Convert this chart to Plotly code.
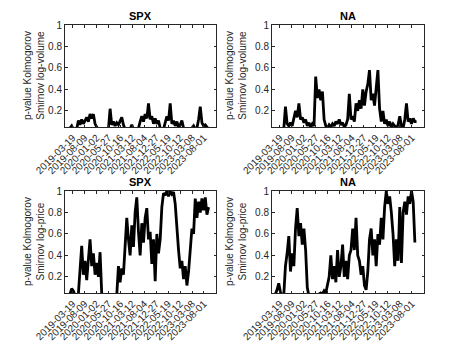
import plotly.graph_objects as go

# trading-day index of each sample, and the dated ticks every 100 days
obs = list(range(0, 1274, 14))
tick_obs = [65, 165, 265, 365, 465, 565, 665, 765, 865, 965, 1065, 1165]
tick_dates = ['2019-03-19', '2019-08-09', '2020-01-02', '2020-05-27',
              '2020-10-16', '2021-03-12', '2021-08-04', '2021-12-27',
              '2022-05-19', '2022-10-12', '2023-03-08', '2023-08-01']
y_ticks = [0.2, 0.4, 0.6, 0.8, 1]
y_ticktext = ['0.2', '0.4', '0.6', '0.8', '1']

# p-values
spx_volume = [0.02, 0.02, 0.03, 0.04, 0.06, 0.03, 0.02, 0.03, 0.11, 0.07,
              0.12, 0.08, 0.11, 0.14, 0.10, 0.17, 0.13, 0.17, 0.08, 0.04,
              0.02, 0.02, 0.02, 0.02, 0.02, 0.02, 0.03, 0.22, 0.07, 0.10,
              0.06, 0.09, 0.07, 0.10, 0.14, 0.07, 0.03, 0.02, 0.02, 0.03,
              0.07, 0.03, 0.02, 0.03, 0.04, 0.10, 0.15, 0.10, 0.17, 0.13,
              0.27, 0.12, 0.15, 0.08, 0.13, 0.08, 0.11, 0.04, 0.02, 0.03,
              0.09, 0.15, 0.11, 0.27, 0.08, 0.11, 0.06, 0.10, 0.05, 0.07,
              0.11, 0.04, 0.02, 0.02, 0.02, 0.02, 0.04, 0.06, 0.03, 0.04,
              0.12, 0.24, 0.09, 0.06, 0.07, 0.05, 0.03]
na_volume = [0.02, 0.02, 0.02, 0.03, 0.02, 0.02, 0.02, 0.03, 0.24, 0.08,
             0.06, 0.09, 0.06, 0.12, 0.20, 0.14, 0.27, 0.12, 0.14, 0.09,
             0.12, 0.06, 0.09, 0.05, 0.08, 0.06, 0.52, 0.32, 0.40, 0.30,
             0.38, 0.12, 0.06, 0.04, 0.07, 0.05, 0.08, 0.06, 0.10, 0.08,
             0.12, 0.07, 0.09, 0.05, 0.07, 0.12, 0.36, 0.12, 0.15, 0.10,
             0.27, 0.20, 0.30, 0.22, 0.40, 0.25, 0.38, 0.45, 0.58, 0.30,
             0.36, 0.25, 0.46, 0.58, 0.22, 0.10, 0.20, 0.08, 0.12, 0.06,
             0.10, 0.05, 0.08, 0.06, 0.04, 0.07, 0.15, 0.06, 0.04, 0.12,
             0.27, 0.10, 0.13, 0.08, 0.13, 0.10, 0.10]
spx_price = [0.02, 0.02, 0.03, 0.04, 0.09, 0.07, 0.03, 0.02, 0.04, 0.30,
             0.49, 0.22, 0.35, 0.17, 0.38, 0.55, 0.30, 0.42, 0.22, 0.33,
             0.20, 0.43, 0.04, 0.01, 0.01, 0.01, 0.01, 0.01, 0.01, 0.01,
             0.01, 0.03, 0.30, 0.15, 0.28, 0.22, 0.45, 0.75, 0.55, 0.40,
             0.68, 0.48, 0.80, 0.94, 0.62, 0.40, 0.70, 0.52, 0.75, 0.84,
             0.55, 0.62, 0.32, 0.55, 0.16, 0.60, 0.42, 0.55, 0.85, 0.98,
             0.96, 1.00, 0.95, 1.00, 0.97, 0.99, 0.88, 0.62, 0.45, 0.28,
             0.35, 0.18, 0.30, 0.12, 0.25, 0.45, 0.65, 0.60, 0.93, 0.75,
             0.90, 0.80, 0.93, 0.82, 0.94, 0.78, 0.85]
na_price = [0.02, 0.03, 0.04, 0.08, 0.14, 0.06, 0.02, 0.03, 0.30, 0.42,
            0.58, 0.25, 0.42, 0.30, 0.65, 0.84, 0.58, 0.70, 0.50, 0.65,
            0.45, 0.10, 0.02, 0.01, 0.01, 0.01, 0.01, 0.01, 0.04, 0.05,
            0.04, 0.07, 0.05, 0.12, 0.20, 0.40, 0.18, 0.30, 0.15, 0.45,
            0.20, 0.30, 0.50, 0.20, 0.35, 0.18, 0.40, 0.45, 0.65, 0.45,
            0.75, 0.40, 0.35, 0.22, 0.30, 0.12, 0.08, 0.25, 0.55, 0.65,
            0.40, 0.55, 0.30, 0.60, 0.50, 0.75, 0.55, 0.85, 1.00, 0.88,
            0.95, 0.80, 0.60, 0.30, 0.55, 0.35, 0.85, 0.33, 0.80, 0.90,
            0.78, 0.95, 0.88, 1.00, 0.90, 0.52]

FONT = 'Liberation Sans, Arial, Helvetica, sans-serif'
INK = '#262626'
W, H = 467, 350
PAGE_PAD = 8  # the page body puts the figure 8px in from the corner

# (series, title, ylabel, x px span, y px span, ylabel centre px) in window pixels
panels = [
    (spx_volume, 'SPX', 'p-value Kolmogorov<br>Smirnov log-volume', (65, 216), (25, 127), 34),
    (na_volume, 'NA', 'p-value Kolmogorov<br>Smirnov log-volume', (272, 424), (25, 127), 236),
    (spx_price, 'SPX', 'p-value Kolmogorov<br>Smirnov log-price', (65, 216), (191, 293), 34),
    (na_price, 'NA', 'p-value Kolmogorov<br>Smirnov log-price', (272, 424), (191, 293), 236),
]


def px_x(p):
    return (p - PAGE_PAD) / W


def px_y(p):
    return 1 - (p - PAGE_PAD) / H


fig = go.Figure()
annotations = []
for i, (vals, title, ylabel, (x0, x1), (y0, y1), ylab_x) in enumerate(panels):
    n = '' if i == 0 else str(i + 1)
    fig.add_trace(go.Scatter(x=obs[:len(vals)], y=vals, mode='lines',
                             line=dict(color='black', width=2.8),
                             xaxis='x' + n, yaxis='y' + n, hoverinfo='skip'))
    common = dict(showline=True, linecolor=INK, linewidth=1, mirror='ticks',
                  ticks='inside', ticklen=2.5, tickcolor=INK, tickwidth=1,
                  showgrid=False, zeroline=False, automargin=False,
                  tickfont=dict(family=FONT, size=10, color=INK))
    fig.update_layout({
        'xaxis' + n: dict(common, domain=[px_x(x0), px_x(x1)], range=[0, 1266],
                          tickvals=tick_obs, ticktext=tick_dates, tickangle=-45,
                          anchor='y' + n),
        'yaxis' + n: dict(common, domain=[px_y(y1), px_y(y0)], range=[0.05, 1],
                          tickvals=y_ticks, ticktext=y_ticktext,
                          anchor='x' + n),
    })
    annotations.append(dict(text='<b>%s</b>' % title, xref='paper', yref='paper',
                            x=px_x((x0 + x1) / 2), y=px_y(y0 - 1),
                            xanchor='center', yanchor='bottom', showarrow=False,
                            font=dict(family=FONT, size=11, color='black')))
    annotations.append(dict(text=ylabel, xref='paper', yref='paper',
                            x=px_x(ylab_x), y=px_y((y0 + y1) / 2), textangle=-90,
                            xanchor='center', yanchor='middle', showarrow=False,
                            font=dict(family=FONT, size=10, color=INK)))

fig.update_layout(width=W, height=H, margin=dict(l=0, r=0, t=0, b=0, autoexpand=False),
                  paper_bgcolor='white', plot_bgcolor='white',
                  showlegend=False, annotations=annotations)
fig.write_html("out.html")
